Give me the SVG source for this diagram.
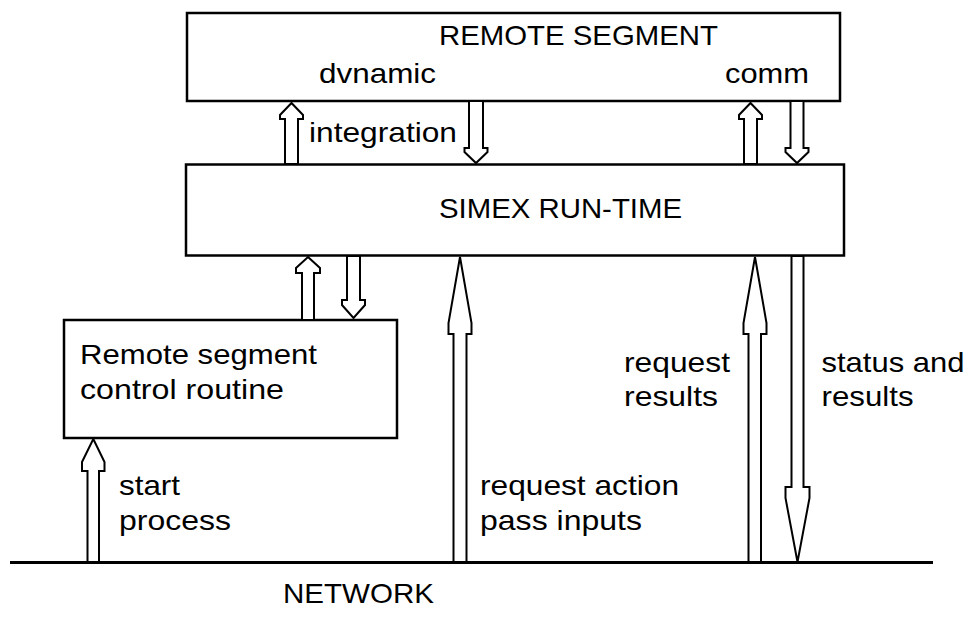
<svg xmlns="http://www.w3.org/2000/svg" width="971" height="635" viewBox="0 0 971 635">
  <style>
    .box { fill: #ffffff; stroke: #000000; stroke-width: 2.5; }
    .arr { fill: #ffffff; stroke: #000000; stroke-width: 2; stroke-linejoin: miter; }
    .t { font-family: "Liberation Sans", Arial, sans-serif; font-size: 28px; fill: #000000; }
    .net { stroke: #000000; stroke-width: 3; }
  </style>
  <rect width="971" height="635" fill="#ffffff"/>

  <g id="remote-segment">
    <rect class="box" x="187" y="13" width="653" height="88"/>
    <text class="t" x="439" y="45" textLength="279" lengthAdjust="spacingAndGlyphs">REMOTE SEGMENT</text>
    <text class="t" x="319" y="82.5" textLength="117" lengthAdjust="spacingAndGlyphs">dvnamic</text>
    <text class="t" x="725" y="82.5" textLength="84" lengthAdjust="spacingAndGlyphs">comm</text>
  </g>

  <g id="simex-run-time">
    <rect class="box" x="186" y="164.5" width="658" height="91"/>
    <text class="t" x="439" y="218" textLength="243" lengthAdjust="spacingAndGlyphs">SIMEX RUN-TIME</text>
  </g>

  <g id="control-routine">
    <rect class="box" x="64" y="320" width="333" height="118"/>
    <text class="t" x="80" y="364" textLength="237" lengthAdjust="spacingAndGlyphs">Remote segment</text>
    <text class="t" x="80" y="399" textLength="204" lengthAdjust="spacingAndGlyphs">control routine</text>
  </g>

  <g id="network">
    <line class="net" x1="10" y1="562.5" x2="933" y2="562.5"/>
    <text class="t" x="283" y="603" textLength="151" lengthAdjust="spacingAndGlyphs">NETWORK</text>
  </g>

  <g id="connectors">
    <!-- SIMEX -> REMOTE SEGMENT (dynamic integration) -->
    <polygon class="arr" points="291.5,103 303,115 303,119 298,119 298,164 285,164 285,119 280,119 280,115"/>
    <polygon class="arr" points="469,101 483,101 483,148 487.5,148 487.5,152 476,163 464.5,152 464.5,148 469,148"/>
    <!-- comm -->
    <polygon class="arr" points="750.5,103 762,115 762,119 757,119 757,164 744,164 744,119 739,119 739,115"/>
    <polygon class="arr" points="790.5,101 803.5,101 803.5,148 808.5,148 808.5,152 797,163 785.5,152 785.5,148 790.5,148"/>
    <!-- control routine <-> SIMEX -->
    <polygon class="arr" points="308,257 320,268 320,273 314,273 314,320 302,320 302,273 296,273 296,268"/>
    <polygon class="arr" points="347,256 360,256 360,300 365,300 365,305 353.5,318 342,305 342,300 347,300"/>
    <!-- request action / pass inputs -->
    <polygon class="arr" points="460,257 471.5,323 471.5,334 466.5,334 466.5,562 453.5,562 453.5,334 448.5,334 448.5,323"/>
    <!-- request results -->
    <polygon class="arr" points="755,257 766.5,323 766.5,334 761,334 761,562 748.5,562 748.5,334 743.5,334 743.5,323"/>
    <!-- status and results -->
    <polygon class="arr" points="791.5,256 803.5,256 803.5,487 809.5,487 809.5,498 797.5,562 785.5,498 785.5,487 791.5,487"/>
    <!-- start process -->
    <polygon class="arr" points="93.3,439 104.5,462 104.5,471 99,471 99,562 87.5,562 87.5,471 82,471 82,462"/>
    <text class="t" x="119" y="495" textLength="61" lengthAdjust="spacingAndGlyphs">start</text>
    <text class="t" x="119" y="530" textLength="112" lengthAdjust="spacingAndGlyphs">process</text>
    <text class="t" x="309" y="142" textLength="148" lengthAdjust="spacingAndGlyphs">integration</text>
    <text class="t" x="480" y="495" textLength="199" lengthAdjust="spacingAndGlyphs">request action</text>
    <text class="t" x="480" y="530" textLength="162" lengthAdjust="spacingAndGlyphs">pass inputs</text>
    <text class="t" x="624" y="372" textLength="106" lengthAdjust="spacingAndGlyphs">request</text>
    <text class="t" x="624" y="406" textLength="94" lengthAdjust="spacingAndGlyphs">results</text>
    <text class="t" x="821.5" y="372" textLength="143" lengthAdjust="spacingAndGlyphs">status and</text>
    <text class="t" x="821.5" y="406" textLength="92" lengthAdjust="spacingAndGlyphs">results</text>
  </g>
</svg>
